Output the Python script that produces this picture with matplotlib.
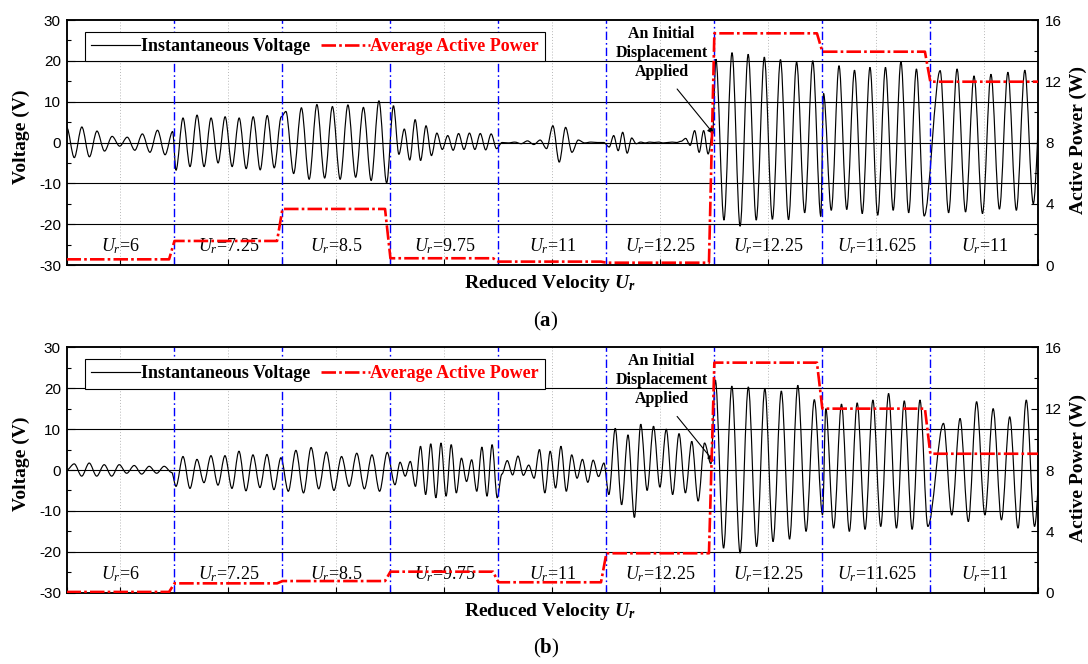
import numpy as np
import matplotlib
matplotlib.use("Agg")
import matplotlib.pyplot as plt
from matplotlib.lines import Line2D
from matplotlib.path import Path
from matplotlib.patches import PathPatch
from matplotlib.ticker import MultipleLocator

# ---------------------------------------------------------------- data
# x axis: nine test stages, each one unit wide (stage i spans [i, i+1])
stage_labels = ["6", "7.25", "8.5", "9.75", "11", "12.25", "12.25", "11.625", "11"]

# average active power per stage (W)
power_a = [0.37, 1.57, 3.66, 0.44, 0.22, 0.15, 15.13, 13.93, 11.97]
power_b = [0.05, 0.61, 0.76, 1.37, 0.68, 2.57, 15.00, 12.00, 9.06]

# instantaneous voltage: successive peak / trough values (V) in each stage,
# and the time span (stage units) from the first to the last of them
va_spans = [(0.002, 0.983), (1.014, 1.989), (2.032, 2.965), (3.028, 3.983),
            (4.034, 4.975), (5.026, 5.984), (6.014, 6.986), (7.011, 7.943),
            (8.091, 9.032)]
va_s1 = [3.7, -3.7, 3.8, -3.5, 2.8, -2.1, 1.5, -0.9, 1.3, -1.9, 2.1, -2.4, 3.0, -3.0, 2.7]
va_s2 = [-6.8, 6.0, -5.9, 6.7, -5.9, 6.0, -5.0, 6.3, -5.9, 6.0, -6.4, 6.3, -6.7, 6.6, -6.2, 6.3]
va_s3 = [7.6, -7.6, 8.5, -9.0, 9.3, -8.7, 8.8, -9.0, 9.2, -8.5, 8.6, -9.3, 10.2, -9.9]
va_s4 = [9.0, -2.9, 3.3, -4.3, 5.6, -4.4, 4.1, -3.2, 2.3, -1.7, 1.7, -1.9, 2.2, -1.7,
         2.3, -1.7, 2.2, -1.8, 2.1, -1.5]
va_s5 = [0.0, -0.1, 0.1, -0.3, 0.4, -0.5, 0.6, -1.5, 4.1, -4.8, 3.7, -2.4, 0.6, -0.1,
         0.1, 0.0, 0.0]
va_s6 = [-1.1, 1.7, -2.0, 2.5, -2.6, 1.1, -0.3, 0.1, -0.1, 0.1, 0.0, 0.1, -0.1, 0.0,
         0.1, 0.0, 0.3, 1.0, -0.7, 2.9, -2.4, 2.9, -2.8, 2.1]
va_s7 = [20.4, -19.0, 22.0, -20.5, 21.6, -19.0, 20.9, -18.8, 20.3, -18.9, 19.7, -17.2, 20.0, -18.1]
va_s8 = [12.0, -16.6, 18.8, -16.4, 17.7, -17.4, 18.4, -17.8, 18.4, -16.6, 19.8, -17.2, 18.0, -18.0]
va_s9 = [17.6, -17.2, 18.0, -17.0, 16.3, -17.4, 16.7, -16.3, 17.2, -16.6, 17.7, -15.0, 16.0]

vb_spans = [(0.002, 0.974), (1.014, 1.986), (2.054, 2.970), (3.042, 3.989),
            (4.032, 4.977), (5.023, 5.968), (6.009, 7.002), (7.032, 7.977),
            (8.122, 9.042)]
vb_s1 = [0.0, 1.5, -1.5, 1.7, -1.5, 1.3, -1.5, 1.3, -0.8, 1.1, -1.0, 0.9, -0.8, 0.9, -0.6]
vb_s2 = [-4.0, 3.3, -4.5, 2.6, -3.1, 3.5, -3.7, 3.5, -4.5, 4.6, -5.1, 3.7, -4.3, 3.8, -4.8, 3.0]
vb_s3 = [-5.2, 4.8, -5.6, 5.5, -4.6, 4.4, -5.0, 3.3, -4.0, 4.1, -4.6, 3.7, -5.2, 4.3]
vb_s4 = [-3.6, 1.9, -1.5, 2.1, -4.0, 5.8, -6.0, 6.4, -6.8, 6.6, -6.4, 6.2, -5.6, 2.9,
         -2.8, 2.5, -5.2, 5.6, -6.4, 6.2, -6.8]
vb_s5 = [-1.0, 2.3, -1.2, 3.4, -1.3, 1.2, -2.0, 5.0, -5.6, 4.6, -4.4, 5.8, -5.2, 3.7,
         -2.0, 2.6, -3.0, 2.4, -1.6, 1.7]
vb_s6 = [-6.0, 10.2, -8.5, 8.6, -11.6, 11.2, -5.0, 10.7, -4.2, 10.0, -6.0, 8.9, -5.6,
         7.0, -7.6, 6.6, 1.5]
vb_s7 = [22.0, -19.1, 20.5, -20.3, 20.3, -18.7, 19.9, -17.5, 19.3, -16.9, 20.7, -15.0, 17.2, -11.0]
vb_s8 = [15.0, -14.2, 16.1, -15.0, 16.4, -14.5, 17.1, -13.8, 18.7, -14.2, 16.9, -14.5, 17.1, -13.8]
vb_s9 = [11.4, -11.0, 12.6, -12.6, 16.7, -11.0, 15.0, -12.2, 13.0, -14.2, 17.1, -13.8, 12.0]

volt_a = [va_s1, va_s2, va_s3, va_s4, va_s5, va_s6, va_s7, va_s8, va_s9]
volt_b = [vb_s1, vb_s2, vb_s3, vb_s4, vb_s5, vb_s6, vb_s7, vb_s8, vb_s9]

# ---------------------------------------------------------------- style
plt.rcParams.update({
    "font.family": "Liberation Serif",
    "axes.unicode_minus": False,
    "mathtext.fontset": "custom",
    "mathtext.rm": "Liberation Serif",
    "mathtext.it": "Liberation Serif:italic",
    "mathtext.bf": "Liberation Serif:bold",
})
if "mathtext.bfit" in plt.rcParams:
    plt.rcParams["mathtext.bfit"] = "Liberation Serif:italic:bold"
    UR_BOLD = r"$\mathbfit{U}_{\mathbfit{r}}$"
else:
    UR_BOLD = r"$\mathbf{U}_{\mathbf{r}}$"

RED_DASH = (0, (5.5, 1.2, 1.0, 1.2))
BLUE_DASH = (0, (6, 2.2, 1.2, 2.2))
W, H = 1088, 664


def trace(spans, segments):
    xs, ys = [], []
    for (t0, t1), vals in zip(spans, segments):
        xs.append(np.linspace(t0, t1, len(vals)))
        ys.append(np.asarray(vals, dtype=float))
    return np.concatenate(xs), np.concatenate(ys)


def smooth_path(x, y):
    """Cubic Bezier path through the extrema with flat tangents at each one."""
    verts = [(x[0], y[0])]
    codes = [Path.MOVETO]
    for i in range(len(x) - 1):
        dx = x[i + 1] - x[i]
        verts += [(x[i] + dx / 3, y[i]), (x[i + 1] - dx / 3, y[i + 1]),
                  (x[i + 1], y[i + 1])]
        codes += [Path.CURVE4] * 3
    return Path(verts, codes)


def steps(levels, ramp=0.05):
    xs, ys = [0.0], [levels[0]]
    for i in range(1, len(levels)):
        xs += [i - ramp, i]
        ys += [levels[i - 1], levels[i]]
    xs.append(float(len(levels)))
    ys.append(levels[-1])
    return xs, ys


def panel(rect, spans, segments, power, tag, top_px, bottom_px):
    ax = fig.add_axes(rect)
    ax.set_xlim(0, 9)
    ax.set_ylim(-30, 30)
    for v in (-20, -10, 0, 10, 20):
        ax.axhline(v, color="black", lw=0.8, zorder=1)
    for m in np.arange(0.5, 9, 1.0):
        ax.axvline(m, color="#b8b8b8", lw=0.7, ls=(0, (1, 2)), zorder=0.5)

    x, y = trace(spans, segments)
    ax.add_patch(PathPatch(smooth_path(x, y), facecolor="none",
                           edgecolor="black", lw=0.85, zorder=3))

    for b in range(1, 9):
        ax.axvline(b, color="#0000ff", lw=1.0, ls=BLUE_DASH, zorder=4)

    for i, lab in enumerate(stage_labels):
        ax.text(i + 0.5, -26.7, r"$U_r$=" + lab, ha="center", va="baseline",
                fontsize=13, zorder=5)

    ax.text(5.51, 21.9, "An Initial\nDisplacement\nApplied", ha="center",
            va="center", fontsize=11.5, fontweight="bold", linespacing=1.25,
            zorder=6)
    ax.annotate("", xy=(5.994, 2.1), xytext=(5.655, 13.1),
                arrowprops=dict(arrowstyle="-|>", color="black", lw=0.8,
                                mutation_scale=9, shrinkA=0, shrinkB=0),
                zorder=6)

    ax.set_yticks(np.arange(-30, 31, 10))
    ax.yaxis.set_minor_locator(MultipleLocator(5))
    ax.set_xticks(np.arange(0, 9.01, 0.5))
    ax.tick_params(axis="y", which="major", direction="in", length=6, width=0.8,
                   labelsize=11, pad=4, labelfontfamily="Liberation Sans")
    ax.tick_params(axis="y", which="minor", direction="in", length=3, width=0.8)
    ax.tick_params(axis="x", which="major", direction="in", length=4, width=0.8,
                   labelbottom=False)
    for s in ax.spines.values():
        s.set_linewidth(1.1)

    ax2 = ax.twinx()
    ax2.set_ylim(0, 16)
    px, py = steps(power)
    ax2.plot(px, py, color="#ff0000", lw=1.9, ls=RED_DASH, zorder=5)
    ax2.set_yticks([0, 4, 8, 12, 16])
    ax2.yaxis.set_minor_locator(MultipleLocator(2))
    ax2.tick_params(axis="y", which="major", direction="in", length=5, width=0.8,
                    labelsize=11, pad=5, labelfontfamily="Liberation Sans")
    ax2.tick_params(axis="y", which="minor", direction="in", length=3, width=0.8)
    for s in ax2.spines.values():
        s.set_linewidth(1.1)

    h1 = Line2D([], [], color="black", lw=0.85)
    h2 = Line2D([], [], color="#ff0000", lw=1.9, ls=RED_DASH)
    leg = ax2.legend([h1, h2], ["Instantaneous Voltage", "Average Active Power"],
                     ncol=2, loc="upper left", bbox_to_anchor=(0.0188, 0.952),
                     borderaxespad=0, frameon=True, fancybox=False,
                     edgecolor="black", framealpha=1, handlelength=2.7,
                     handletextpad=0.05, columnspacing=0.6, borderpad=0.35,
                     prop=dict(family="Liberation Serif", weight="bold", size=13))
    leg.get_frame().set_linewidth(0.8)
    leg.get_texts()[1].set_color("#ff0000")

    mid = (top_px + bottom_px) / 2
    fig.text(21 / W, 1 - (mid - 6) / H, "Voltage (V)", rotation=90,
             ha="center", va="center", fontsize=14, fontweight="bold")
    fig.text(1078 / W, 1 - (mid - 2) / H, "Active Power (W)", rotation=90,
             ha="center", va="center", fontsize=14, fontweight="bold")
    fig.text(550 / W, 1 - (bottom_px + 23) / H, "Reduced Velocity " + UR_BOLD,
             ha="center", va="baseline", fontsize=14, fontweight="bold")
    fig.text(546 / W, 1 - (bottom_px + 56) / H, "(" + r"$\mathbf{" + tag + "}$" + ")",
             ha="center", va="center", fontsize=15)
    return ax, ax2


fig = plt.figure(figsize=(W / 100, H / 100), dpi=100)
left, width = 66.5 / W, 971.8 / W
panel([left, 1 - 265 / H, width, 245 / H], va_spans, volt_a, power_a, "a", 20, 265)
panel([left, 1 - 592.7 / H, width, 245.4 / H], vb_spans, volt_b, power_b, "b", 347.3, 592.7)

fig.savefig("out.png", dpi=100)
